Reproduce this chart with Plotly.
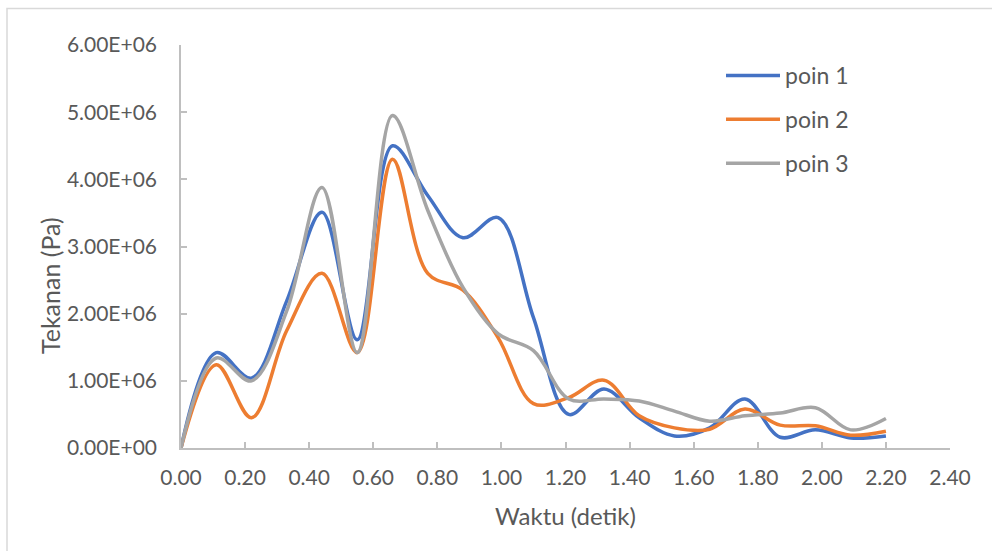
import plotly.graph_objects as go

# Data
waktu = [0.00, 0.11, 0.22, 0.33, 0.44, 0.55, 0.66, 0.77, 0.88, 0.99, 1.10,
         1.21, 1.32, 1.43, 1.54, 1.65, 1.76, 1.87, 1.98, 2.09, 2.20]
poin1 = [0.00, 1.42, 1.04, 2.19, 3.51, 1.61, 4.50, 3.76, 3.13, 3.43, 1.94,
         0.50, 0.88, 0.45, 0.18, 0.30, 0.73, 0.16, 0.27, 0.15, 0.18]
poin2 = [0.00, 1.24, 0.45, 1.75, 2.60, 1.42, 4.30, 2.60, 2.35, 1.64, 0.66,
         0.75, 1.01, 0.48, 0.30, 0.28, 0.58, 0.34, 0.33, 0.19, 0.25]
poin3 = [0.00, 1.34, 1.00, 2.04, 3.88, 1.42, 4.95, 3.54, 2.39, 1.70, 1.45,
         0.73, 0.73, 0.70, 0.55, 0.40, 0.48, 0.52, 0.60, 0.27, 0.44]
scale = 1e6
series_names = ["poin 1", "poin 2", "poin 3"]
series_colors = ["#4472C4", "#ED7D31", "#A5A5A5"]

y_tickvals = [0, 1e6, 2e6, 3e6, 4e6, 5e6, 6e6]
y_ticktext = ["0.00E+00", "1.00E+06", "2.00E+06", "3.00E+06",
              "4.00E+06", "5.00E+06", "6.00E+06"]
x_title = "Waktu (detik)"
y_title = "Tekanan (Pa)"

FONT = "Lato, 'Open Sans', 'DejaVu Sans', sans-serif"
TXT = "#595959"
AX = "#BFBFBF"

fig = go.Figure()
for i, (name, vals, col) in enumerate(zip(series_names, [poin1, poin2, poin3], series_colors)):
    fig.add_trace(go.Scatter(
        x=waktu, y=[v * scale for v in vals], mode="lines", name=name,
        legendgroup=f"g{i}",
        line=dict(color=col, width=3.5, shape="spline", smoothing=1.0),
    ))

# plot area: x 181..950, y 45..448 in pixels
L, R, T, B = 181, 950, 45, 448
W, H = 992, 551
pw, ph = R - L, B - T

def px(x):
    return (x - L) / pw

def py(y):
    return (B - y) / ph

fig.update_layout(
    width=W, height=H,
    margin=dict(l=L, r=W - R, t=T, b=H - B, pad=0),
    paper_bgcolor="white", plot_bgcolor="white",
    font=dict(family=FONT, color=TXT, size=21),
    showlegend=True,
    legend=dict(
        x=px(721), y=py(54), xanchor="left", yanchor="top",
        bgcolor="rgba(0,0,0,0)", font=dict(size=23, color=TXT),
        tracegroupgap=11, itemwidth=54,
    ),
    xaxis=dict(
        range=[0, 2.4], tickmode="linear", tick0=0, dtick=0.2, tickformat=".2f",
        showgrid=False, zeroline=False, showline=True, linecolor=AX, linewidth=1.5,
        ticks="inside", ticklen=6, tickcolor=AX, tickwidth=1.5,
        tickfont=dict(size=21, color=TXT), ticklabelstandoff=10,
        title=dict(text=x_title, font=dict(size=24, color=TXT), standoff=20),
    ),
    yaxis=dict(
        range=[0, 6e6], tickmode="array", tickvals=y_tickvals, ticktext=y_ticktext,
        showgrid=False, zeroline=False, showline=True, linecolor=AX, linewidth=1.5,
        ticks="inside", ticklen=6, tickcolor=AX, tickwidth=1.5,
        tickfont=dict(size=21, color=TXT), ticklabelstandoff=18,
    ),
)

# y-axis title (placed as Excel does, slightly below the plot-area centre)
fig.add_annotation(text=y_title, xref="paper", yref="paper",
                   x=px(50), y=py(286), xanchor="center", yanchor="middle",
                   textangle=-90, showarrow=False,
                   font=dict(size=25, color=TXT, family=FONT))

# chart-area border (light gray), top and left visible in the frame
fig.add_shape(type="rect", xref="paper", yref="paper",
              x0=px(7), x1=px(1010), y0=py(570), y1=py(8.5),
              line=dict(color="#D9D9D9", width=1.5), fillcolor="rgba(0,0,0,0)",
              layer="below")

fig.write_html("out.html", config={"displayModeBar": False},
               post_script="document.body.style.margin='0';")
